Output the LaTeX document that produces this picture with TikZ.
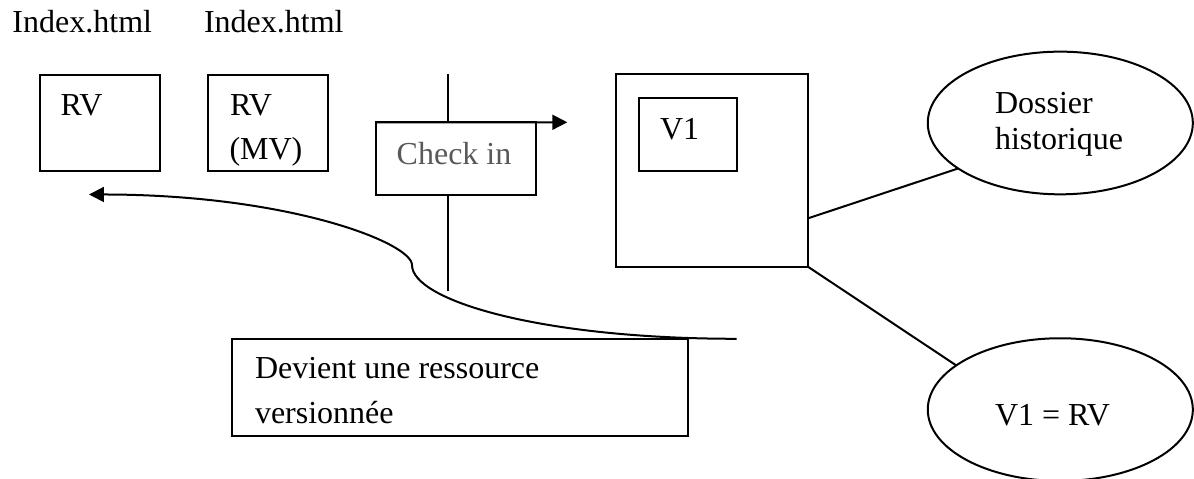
\documentclass[tikz,border=0pt]{standalone}
\usepackage{fontspec}
\setmainfont{Liberation Serif}
\usetikzlibrary{arrows.meta,shapes.geometric}
\definecolor{softink}{HTML}{595959}
\begin{document}
\begin{tikzpicture}[x=0.375pt,y=-0.375pt,
  every node/.style={inner sep=0pt,outer sep=0pt},
  frame/.style={draw,line width=0.75pt,fill=white,rectangle},
  bubble/.style={draw,line width=0.75pt,ellipse,minimum width=99.4pt,minimum height=53.5pt},
  txt/.style={anchor=base west,font=\fontsize{12}{13.8}\selectfont},
  link/.style={line width=0.75pt},
  arr/.style={line width=0.75pt,-{Triangle[length=5.6pt,width=5.6pt]}}
]
\useasboundingbox (0,0) rectangle (1194,479);

% file labels
\node[txt] (idx1) at (12.5,32.5) {Index.html};
\node[txt] (idx2) at (204,32.5) {Index.html};

% resource boxes
\node[frame,minimum width=45.1pt,minimum height=36pt] (rv) at (99.9,123) {};
\node[txt] (rvt) at (60.5,115.5) {RV};
\node[frame,minimum width=45.1pt,minimum height=36pt] (mv) at (267.9,123) {};
\node[txt] (mvt1) at (230,115.5) {RV};
\node[txt] (mvt2) at (229.5,159.5) {(MV)};

% check-in barrier
\coordinate (vt) at (448,74);
\coordinate (vb) at (448,290.7);
\draw[link] (vt) -- (vb);
\node[frame,minimum width=60pt,minimum height=27.1pt] (ci) at (455.8,158.4) {};
\node[txt,text=softink] (cit) at (396.7,164.3) {Check in};
\coordinate (citip) at (567.3,122.3);
\draw[arr] (ci.north west) -- (citip);

% history folder
\node[frame,minimum width=72pt,minimum height=72.3pt] (big) at (712,170.35) {};
\node[frame,minimum width=36.4pt,minimum height=27.2pt] (v1) at (688,134.5) {};
\node[txt] (v1t) at (660,139.3) {V1};

% callouts
\node[bubble] (e1) at (1060.3,123) {};
\node[txt] (e1a) at (995,113.3) {Dossier};
\node[txt] (e1b) at (995,150) {historique};
\node[bubble] (e2) at (1060.3,409.6) {};
\node[txt] (e2t) at (995,426) {V1 = RV};
\draw[link] ([yshift=-18pt]big.east) -- (e1.204);
\draw[link] (big.south east) -- (e2.157);

% versioned resource note
\node[frame,minimum width=170.9pt,minimum height=36.2pt] (dev) at (460.15,387.5) {};
\node[txt] (devt1) at (255,378.3) {Devient une ressource};
\node[txt] (devt2) at (255,423.3) {versionnée};

% return arrow
\coordinate (cs) at (736.6,338.8);
\coordinate (ct) at (89,194.5);
\draw[arr] (cs) .. controls (538.6,338.8) and (412,300) .. (412,265)
  .. controls (412,243) and (289,194.5) .. (ct);
\end{tikzpicture}
\end{document}
